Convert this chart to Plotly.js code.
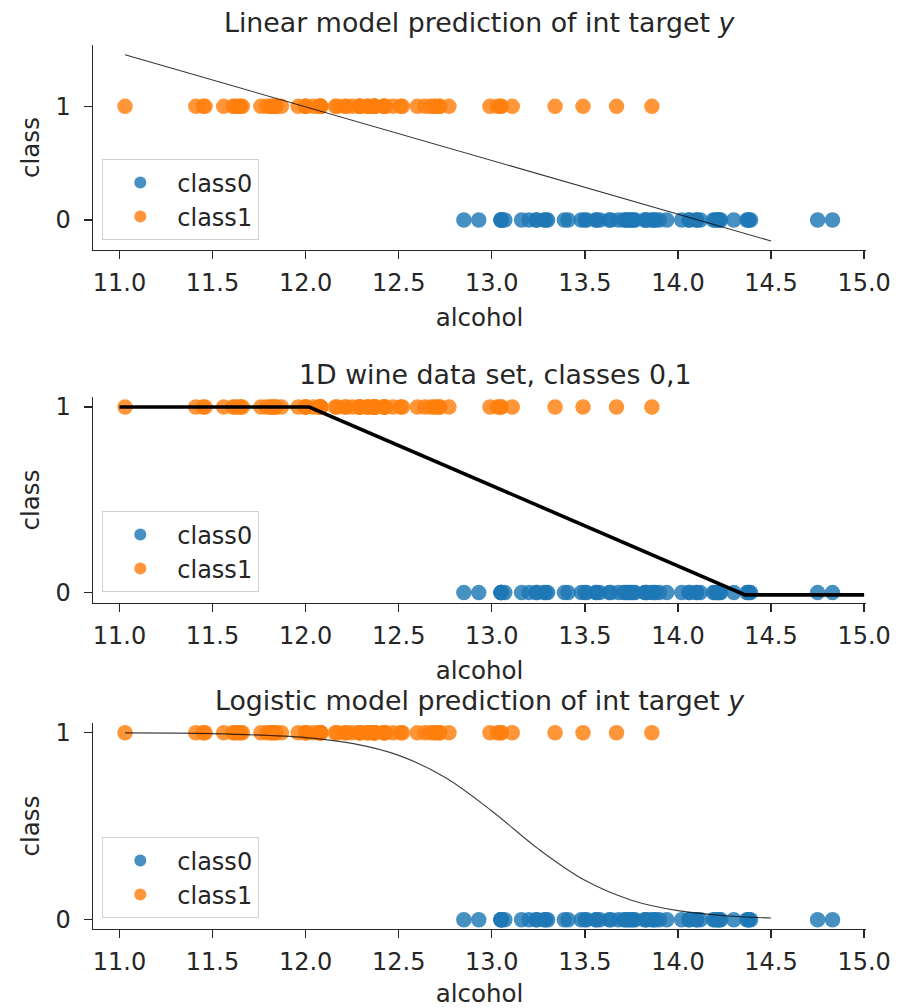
<!DOCTYPE html>
<html>
<head>
<meta charset="utf-8">
<script src="https://cdn.plot.ly/plotly-3.0.1.min.js"></script>
<style>html,body{margin:0;padding:0;background:#fff;}</style>
</head>
<body>
<div id="chart" style="width:909px;height:1008px;"></div>
<script>
// ---- data ----
const alcoholClass0 = [14.23, 13.2, 13.16, 14.37, 13.24, 14.2, 14.39, 14.06, 14.83, 13.86, 14.1, 14.12, 13.75, 14.75, 14.38, 13.63, 14.3, 13.83, 14.19, 13.64, 14.06, 12.93, 13.71, 12.85, 13.5, 13.05, 13.39, 13.3, 13.87, 14.02, 13.73, 13.58, 13.68, 13.76, 13.51, 13.48, 13.28, 13.05, 13.07, 14.22, 13.56, 13.41, 13.88, 13.24, 13.05, 14.21, 14.38, 13.9, 14.1, 13.94, 13.05, 13.83, 13.82, 13.77, 13.74, 13.56, 14.22, 13.29, 13.72];
const alcoholClass1 = [12.37, 12.33, 12.64, 13.67, 12.37, 12.17, 12.37, 13.11, 12.37, 13.34, 12.21, 12.29, 13.86, 13.49, 12.99, 11.96, 11.66, 13.03, 11.84, 12.33, 12.7, 12, 12.72, 12.08, 13.05, 11.84, 12.67, 12.16, 11.65, 11.64, 12.08, 12.08, 12, 12.69, 12.29, 11.62, 12.47, 11.81, 12.29, 12.37, 12.29, 12.08, 12.6, 12.34, 11.82, 12.51, 12.42, 12.25, 12.72, 12.22, 11.61, 11.46, 12.52, 11.76, 11.41, 12.08, 11.03, 11.82, 12.42, 12.77, 12, 11.45, 11.56, 12.42, 13.05, 11.87, 12.07, 12.43, 11.79, 12.37, 12.04];
const label0 = 0;
const label1 = 1;
const classNames = ["class0", "class1"];

// linear model prediction
const linX = [11.03, 14.5];
const linY = [1.454, -0.185];

// middle panel piecewise line
const midX = [11.0, 12.02, 14.36, 15.0];
const midY = [1.0, 1.0, -0.012, -0.012];

// logistic model prediction
const logX = [11.03, 11.5, 12.0, 12.25, 12.5, 12.75, 13.0, 13.25, 13.5, 13.75, 14.0, 14.25, 14.5];
const logY = [0.999, 0.995, 0.974, 0.943, 0.879, 0.761, 0.582, 0.379, 0.211, 0.105, 0.049, 0.022, 0.010];

const xTickVals = [11.0, 11.5, 12.0, 12.5, 13.0, 13.5, 14.0, 14.5, 15.0];
const xTickText = ["11.0", "11.5", "12.0", "12.5", "13.0", "13.5", "14.0", "14.5", "15.0"];
const titles = ["Linear model prediction of int target <i>y</i>", "1D wine data set, classes 0,1", "Logistic model prediction of int target <i>y</i>"];

// ---- styles ----
const FONT = "DejaVu Sans";
const TXT = "#262626";
const BLUE = "rgba(31,119,180,0.82)";
const ORANGE = "rgba(255,127,14,0.82)";

const traces = [];
const axSuffix = ["", "2", "3"];
const legendIds = ["legend", "legend2", "legend3"];
for (let p = 0; p < 3; p++) {
  const xa = "x" + axSuffix[p], ya = "y" + axSuffix[p];
  traces.push({type: "scatter", mode: "markers", x: alcoholClass0, y: alcoholClass0.map(() => label0),
    name: classNames[0], xaxis: xa, yaxis: ya, legend: legendIds[p],
    marker: {color: BLUE, size: 15.5, line: {width: 0}}});
  traces.push({type: "scatter", mode: "markers", x: alcoholClass1, y: alcoholClass1.map(() => label1),
    name: classNames[1], xaxis: xa, yaxis: ya, legend: legendIds[p],
    marker: {color: ORANGE, size: 15.5, line: {width: 0}}});
}
traces.push({type: "scatter", mode: "lines", x: linX, y: linY, xaxis: "x", yaxis: "y",
  showlegend: false, line: {color: "rgba(0,0,0,0.8)", width: 1.1}});
traces.push({type: "scatter", mode: "lines", x: midX, y: midY, xaxis: "x2", yaxis: "y2",
  showlegend: false, line: {color: "#000", width: 3.6}});
traces.push({type: "scatter", mode: "lines", x: logX, y: logY, xaxis: "x3", yaxis: "y3",
  showlegend: false, line: {color: "rgba(0,0,0,0.75)", width: 1.1, shape: "spline"}});

const T = 45, B = 79, H = 1008;
const ph = H - T - B;
function dom(topPx, botPx) { return [(H - B - botPx) / ph, (H - B - topPx) / ph]; }
const yDomains = [dom(45, 250), dom(397, 603), dom(723, 929)];
const yRanges = [[-0.264, 1.54], [-0.056, 1.054], [-0.049, 1.052]];

function xAxis(p) {
  return {
    anchor: "y" + axSuffix[p], range: [10.858, 15.01], tickvals: xTickVals, ticktext: xTickText,
    showline: true, linecolor: TXT, linewidth: 1.3, mirror: false, showgrid: false, zeroline: false,
    ticks: "outside", ticklen: 8, tickwidth: 1.3, tickcolor: TXT, ticklabelstandoff: 3,
    tickfont: {family: FONT, size: 24, color: TXT},
    title: {text: "alcohol", font: {family: FONT, size: 24.5, color: TXT}, standoff: 12}
  };
}
function yAxis(p) {
  return {
    anchor: "x" + axSuffix[p], domain: yDomains[p], range: yRanges[p], tickvals: [0, 1], ticktext: ["0", "1"],
    showline: true, linecolor: TXT, linewidth: 1.3, mirror: false, showgrid: false, zeroline: false,
    ticks: "outside", ticklen: 8, tickwidth: 1.3, tickcolor: TXT, ticklabelstandoff: 8,
    tickfont: {family: FONT, size: 24, color: TXT},
    title: {text: "class", font: {family: FONT, size: 24.5, color: TXT}, standoff: 9}
  };
}
function legendAt(bottomPx) {
  return {x: (102 - 93) / 773, xanchor: "left", y: (H - B - bottomPx) / ph, yanchor: "bottom",
    bgcolor: "rgba(255,255,255,0.8)", bordercolor: "#d0d0d0", borderwidth: 1.3,
    font: {family: FONT, size: 24, color: TXT}, itemsizing: "constant", itemwidth: 64};
}

const titleShift = [0, 16, 0];
const annotations = titles.map((t, p) => ({
  text: t, xref: "paper", yref: "paper", x: 0.5, y: yDomains[p][1], xanchor: "center", yanchor: "bottom",
  xshift: titleShift[p], yshift: 5, showarrow: false, font: {family: FONT, size: 26.8, color: TXT}
}));

const layout = {
  width: 909, height: 1008,
  margin: {l: 93, r: 43, t: T, b: B},
  paper_bgcolor: "#fff", plot_bgcolor: "#fff",
  font: {family: FONT, color: TXT},
  xaxis: xAxis(0), yaxis: yAxis(0),
  xaxis2: xAxis(1), yaxis2: yAxis(1),
  xaxis3: xAxis(2), yaxis3: yAxis(2),
  legend: legendAt(240), legend2: legendAt(592), legend3: legendAt(918),
  annotations: annotations,
  showlegend: true
};

Plotly.newPlot("chart", traces, layout, {displayModeBar: false, staticPlot: true});
</script>
</body>
</html>
